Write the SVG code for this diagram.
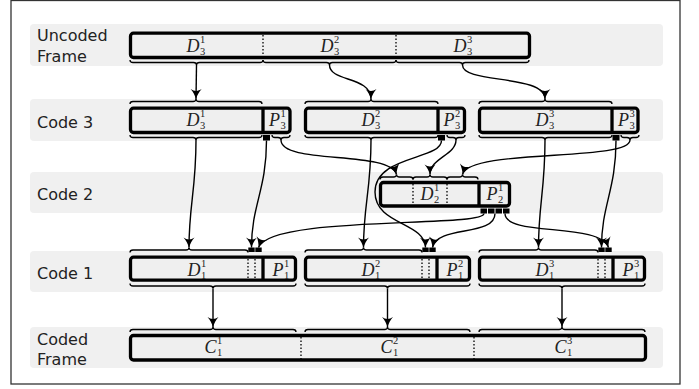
<svg xmlns="http://www.w3.org/2000/svg" width="699" height="389" viewBox="0 0 699 389">
<defs>
<marker id="ah" markerUnits="userSpaceOnUse" markerWidth="16" markerHeight="16" viewBox="-12 -8 16 16" refX="0" refY="0" orient="auto">
<path d="M0,0 C-3.5,-1 -7,-3 -10,-5.5 C-7.5,-2 -7.5,2 -10,5.5 C-7,3 -3.5,1 0,0 Z" fill="#000"/>
</marker>
</defs>
<style>
.band{fill:#f0f0f0}
.box{fill:#efefef;stroke:#000;stroke-width:3.3}
.div{stroke:#000;stroke-width:3.3}
.dot{stroke:#000;stroke-width:1.3;stroke-dasharray:1.5 2}
.br{fill:none;stroke:#000;stroke-width:1.3}
.blk{fill:#000}
.con path{fill:none;stroke:#000;stroke-width:1.4;marker-end:url(#ah)}
.lbl{font-family:"DejaVu Sans",sans-serif;font-size:16px;fill:#222}
.m{font-family:"Liberation Serif",serif;font-style:italic;font-size:18px;fill:#222;text-anchor:end}
.s{font-family:"Liberation Serif",serif;font-size:10.5px;fill:#222}
</style>
<rect x="11" y="0.5" width="669" height="383.5" fill="#fff" stroke="#333" stroke-width="1.3"/>
<!-- bands -->
<rect class="band" x="30" y="24" width="633" height="42" rx="4"/>
<rect class="band" x="30" y="99" width="633" height="42" rx="4"/>
<rect class="band" x="30" y="172" width="633" height="41" rx="4"/>
<rect class="band" x="30" y="251" width="633" height="41" rx="4"/>
<rect class="band" x="30" y="327" width="633" height="41" rx="4"/>
<text class="lbl" x="37" y="41">Uncoded</text>
<text class="lbl" x="37" y="62">Frame</text>
<text class="lbl" x="37" y="128">Code 3</text>
<text class="lbl" x="37" y="200">Code 2</text>
<text class="lbl" x="37" y="279">Code 1</text>
<text class="lbl" x="37" y="345">Coded</text>
<text class="lbl" x="37" y="365">Frame</text>

<g id="uncoded">
<rect class="box" x="130.5" y="33.2" width="399" height="24.3" rx="3"/>
<line class="dot" x1="263" y1="35" x2="263" y2="56"/>
<line class="dot" x1="396" y1="35" x2="396" y2="56"/>
<text class="m" x="199.5" y="52">D</text><text class="s" x="200" y="43">1</text><text class="s" x="200" y="55">3</text>
<text class="m" x="333.5" y="52">D</text><text class="s" x="334" y="43">2</text><text class="s" x="334" y="55">3</text>
<text class="m" x="466.5" y="52">D</text><text class="s" x="467" y="43">3</text><text class="s" x="467" y="55">3</text>
<path class="br" d="M130 60 Q130 62.5 133 62.5 L193.5 62.5 Q196.5 62.5 196.5 65 Q196.5 62.5 199.5 62.5 L260 62.5 Q263 62.5 263 60"/>
<path class="br" d="M263 60 Q263 62.5 266 62.5 L326.5 62.5 Q329.5 62.5 329.5 65 Q329.5 62.5 332.5 62.5 L393 62.5 Q396 62.5 396 60"/>
<path class="br" d="M396 60 Q396 62.5 399 62.5 L459.5 62.5 Q462.5 62.5 462.5 65 Q462.5 62.5 465.5 62.5 L526 62.5 Q529 62.5 529 60"/>
</g>

<g id="code3-1">
<rect class="box" x="130.5" y="108.2" width="159.5" height="24.3" rx="3"/>
<line class="div" x1="263" y1="108" x2="263" y2="132.5"/>
<text class="m" x="199.5" y="126">D</text><text class="s" x="200" y="117">1</text><text class="s" x="200" y="129">3</text>
<text class="m" x="280" y="126">P</text><text class="s" x="280.5" y="117">1</text><text class="s" x="280.5" y="129">3</text>
<path class="br" d="M130 104 Q130 101.5 133 101.5 L193 101.5 Q196 101.5 196 99 Q196 101.5 199 101.5 L259 101.5 Q262 101.5 262 104"/>
<path class="br" d="M130 135 Q130 137.5 133 137.5 L193 137.5 Q196 137.5 196 140 Q196 137.5 199 137.5 L259 137.5 Q262 137.5 262 135"/>
<rect class="blk" x="263" y="135" width="7" height="5.5"/>
<path class="br" d="M272 135 Q272 137.5 275 137.5 L278 137.5 Q281 137.5 281 140 Q281 137.5 284 137.5 L287 137.5 Q290 137.5 290 135" stroke-width="2"/>
</g>
<g id="code3-2">
<rect class="box" x="305.5" y="108.2" width="159" height="24.3" rx="3"/>
<line class="div" x1="438" y1="108" x2="438" y2="132.5"/>
<text class="m" x="374.5" y="126">D</text><text class="s" x="375" y="117">2</text><text class="s" x="375" y="129">3</text>
<text class="m" x="454.5" y="126">P</text><text class="s" x="455" y="117">2</text><text class="s" x="455" y="129">3</text>
<path class="br" d="M305 104 Q305 101.5 308 101.5 L368 101.5 Q371 101.5 371 99 Q371 101.5 374 101.5 L435 101.5 Q438 101.5 438 104"/>
<path class="br" d="M305 135 Q305 137.5 308 137.5 L368 137.5 Q371 137.5 371 140 Q371 137.5 374 137.5 L435 137.5 Q438 137.5 438 135"/>
<rect class="blk" x="438" y="135" width="7" height="5.5"/>
<path class="br" d="M447 135 Q447 137.5 450 137.5 L453 137.5 Q456 137.5 456 140 Q456 137.5 459 137.5 L462 137.5 Q465 137.5 465 135" stroke-width="2"/>
</g>
<g id="code3-3">
<rect class="box" x="479.5" y="108.2" width="158.5" height="24.3" rx="3"/>
<line class="div" x1="612" y1="108" x2="612" y2="132.5"/>
<text class="m" x="548.5" y="126">D</text><text class="s" x="549" y="117">3</text><text class="s" x="549" y="129">3</text>
<text class="m" x="629" y="126">P</text><text class="s" x="629.5" y="117">3</text><text class="s" x="629.5" y="129">3</text>
<path class="br" d="M479 104 Q479 101.5 482 101.5 L542 101.5 Q545 101.5 545 99 Q545 101.5 548 101.5 L609 101.5 Q612 101.5 612 104"/>
<path class="br" d="M479 135 Q479 137.5 482 137.5 L542 137.5 Q545 137.5 545 140 Q545 137.5 548 137.5 L609 137.5 Q612 137.5 612 135"/>
<rect class="blk" x="612.5" y="135" width="7" height="5.5"/>
<path class="br" d="M621 135 Q621 137.5 624 137.5 L627 137.5 Q630 137.5 630 140 Q630 137.5 633 137.5 L636 137.5 Q639 137.5 639 135" stroke-width="2"/>
</g>

<g id="code2">
<rect class="box" x="380.5" y="182.5" width="129" height="23.5" rx="3"/>
<line class="div" x1="479" y1="182.5" x2="479" y2="206"/>
<line class="dot" x1="413" y1="184" x2="413" y2="205"/>
<line class="dot" x1="447" y1="184" x2="447" y2="205"/>
<text class="m" x="433.5" y="200">D</text><text class="s" x="434" y="191">1</text><text class="s" x="434" y="203">2</text>
<text class="m" x="497.5" y="200">P</text><text class="s" x="498" y="191">1</text><text class="s" x="498" y="203">2</text>
<path class="br" d="M380 179.5 Q380 177 383 177 L393.5 177 Q396.5 177 396.5 174.5 Q396.5 177 399.5 177 L410 177 Q413 177 413 179.5"/>
<path class="br" d="M413 179.5 Q413 177 416 177 L427 177 Q430 177 430 174.5 Q430 177 433 177 L444 177 Q447 177 447 179.5"/>
<path class="br" d="M447 179.5 Q447 177 450 177 L459.5 177 Q462.5 177 462.5 174.5 Q462.5 177 465.5 177 L475 177 Q478 177 478 179.5"/>
<rect class="blk" x="480.5" y="208.5" width="6.5" height="5"/>
<rect class="blk" x="488" y="208.5" width="6.5" height="5"/>
<rect class="blk" x="495.5" y="208.5" width="6.5" height="5"/>
<rect class="blk" x="503" y="208.5" width="6.5" height="5"/>
</g>

<g id="code1-1">
<rect class="box" x="130.5" y="257.2" width="165" height="23" rx="3"/>
<line class="div" x1="263" y1="257" x2="263" y2="280"/>
<line class="dot" x1="248" y1="259" x2="248" y2="279"/>
<line class="dot" x1="255" y1="259" x2="255" y2="279"/>
<text class="m" x="200.5" y="276">D</text><text class="s" x="201" y="267">1</text><text class="s" x="201" y="279">1</text>
<text class="m" x="283.5" y="276">P</text><text class="s" x="284" y="267">1</text><text class="s" x="284" y="279">1</text>
<path class="br" d="M130 252.5 Q130 250 133 250 L186 250 Q189 250 189 247.5 Q189 250 192 250 L245 250 Q248 250 248 252.5"/>
<rect class="blk" x="248.3" y="247.5" width="6.4" height="4.5"/>
<rect class="blk" x="255.3" y="247.5" width="6.4" height="4.5"/>
<path class="br" d="M130 283.5 Q130 286 133 286 L210 286 Q213 286 213 288.5 Q213 286 216 286 L293 286 Q296 286 296 283.5"/>
</g>
<g id="code1-2">
<rect class="box" x="305.5" y="257.2" width="164" height="23" rx="3"/>
<line class="div" x1="437" y1="257" x2="437" y2="280"/>
<line class="dot" x1="422" y1="259" x2="422" y2="279"/>
<line class="dot" x1="429" y1="259" x2="429" y2="279"/>
<text class="m" x="374.5" y="276">D</text><text class="s" x="375" y="267">2</text><text class="s" x="375" y="279">1</text>
<text class="m" x="457.5" y="276">P</text><text class="s" x="458" y="267">2</text><text class="s" x="458" y="279">1</text>
<path class="br" d="M305 252.5 Q305 250 308 250 L360.5 250 Q363.5 250 363.5 247.5 Q363.5 250 366.5 250 L419 250 Q422 250 422 252.5"/>
<rect class="blk" x="422.3" y="247.5" width="6.4" height="4.5"/>
<rect class="blk" x="429.3" y="247.5" width="6.4" height="4.5"/>
<path class="br" d="M305 283.5 Q305 286 308 286 L384.5 286 Q387.5 286 387.5 288.5 Q387.5 286 390.5 286 L467 286 Q470 286 470 283.5"/>
</g>
<g id="code1-3">
<rect class="box" x="479.5" y="257.2" width="165" height="23" rx="3"/>
<line class="div" x1="613" y1="257" x2="613" y2="280"/>
<line class="dot" x1="598" y1="259" x2="598" y2="279"/>
<line class="dot" x1="605" y1="259" x2="605" y2="279"/>
<text class="m" x="548.5" y="276">D</text><text class="s" x="549" y="267">3</text><text class="s" x="549" y="279">1</text>
<text class="m" x="633.5" y="276">P</text><text class="s" x="634" y="267">3</text><text class="s" x="634" y="279">1</text>
<path class="br" d="M479 252.5 Q479 250 482 250 L535.5 250 Q538.5 250 538.5 247.5 Q538.5 250 541.5 250 L595 250 Q598 250 598 252.5"/>
<rect class="blk" x="598.3" y="247.5" width="6.4" height="4.5"/>
<rect class="blk" x="605.3" y="247.5" width="6.4" height="4.5"/>
<path class="br" d="M479 283.5 Q479 286 482 286 L559 286 Q562 286 562 288.5 Q562 286 565 286 L642 286 Q645 286 645 283.5"/>
</g>

<g id="coded">
<rect class="box" x="130.5" y="335.5" width="515" height="24.5" rx="3"/>
<line class="dot" x1="301" y1="337" x2="301" y2="359"/>
<line class="dot" x1="474" y1="337" x2="474" y2="359"/>
<text class="m" x="216.5" y="353">C</text><text class="s" x="217" y="344">1</text><text class="s" x="217" y="356">1</text>
<text class="m" x="392.5" y="353">C</text><text class="s" x="393" y="344">2</text><text class="s" x="393" y="356">1</text>
<text class="m" x="566.5" y="353">C</text><text class="s" x="567" y="344">3</text><text class="s" x="567" y="356">1</text>
<path class="br" d="M130 332 Q130 329.5 133 329.5 L210 329.5 Q213 329.5 213 327 Q213 329.5 216 329.5 L293 329.5 Q296 329.5 296 332"/>
<path class="br" d="M305 332 Q305 329.5 308 329.5 L384.5 329.5 Q387.5 329.5 387.5 327 Q387.5 329.5 390.5 329.5 L467 329.5 Q470 329.5 470 332"/>
<path class="br" d="M479 332 Q479 329.5 482 329.5 L559 329.5 Q562 329.5 562 327 Q562 329.5 565 329.5 L642 329.5 Q645 329.5 645 332"/>
</g>

<g id="connectors" class="con">
<path d="M196.5,65 L196,99"/>
<path d="M329.5,65 C329.5,82 371,76 371,99"/>
<path d="M462.5,65 C462.5,84 545,74 545,99"/>
<path d="M196,140 C196,190 189,205 189,247.5"/>
<path d="M266.5,140.5 C266.5,190 251.5,205 251.5,247.5"/>
<path d="M281,140 C281,165 390,150 396.5,174.5"/>
<path d="M371,140 C371,190 363.5,205 363.5,247.5"/>
<path d="M441.5,140.5 C441.5,160 375,155 375,192 C375,225 425,222 425.5,247.5"/>
<path d="M456,140 C456,155 430,158 430,174.5"/>
<path d="M545,140 C545,190 538.5,205 538.5,247.5"/>
<path d="M616,140.5 C616,190 601.5,205 601.5,247.5"/>
<path d="M630,140 C630,162 470,148 462.5,174.5"/>
<path d="M484,213.5 C484,228 270,215 258.5,247.5"/>
<path d="M495,213.5 C495,237 437,225 432.5,247.5"/>
<path d="M505,213.5 C505,237 600,222 608.5,247.5"/>
<path d="M213,288.5 L213,327"/>
<path d="M387.5,288.5 L387.5,327"/>
<path d="M562,288.5 L562,327"/>
</g>
</svg>
